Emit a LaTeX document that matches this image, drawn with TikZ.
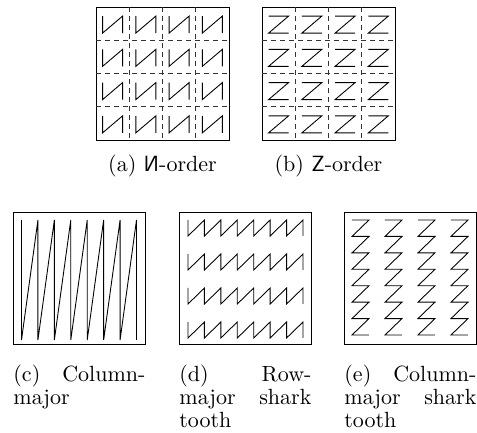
\documentclass[tikz,border=0pt]{standalone}
\usepackage{tikz}
\usetikzlibrary{positioning}

\begin{document}
\begin{tikzpicture}[x=0.4545pt, y=-0.4545pt,
    frame/.style={draw=black, line width=0.4pt},
    cellgrid/.style={draw=black!80, line width=0.4pt, dash pattern=on 2.3pt off 1.8pt},
    curve/.style={draw=black, line width=0.4pt},
    subcap/.style={inner sep=0pt, font=\fontsize{10}{10.5}\selectfont},
    longcap/.style={subcap, anchor=north west, text width=60pt, align=left}]
  \useasboundingbox (0,0) rectangle (477,433);

  % (a) N-order
  \draw[frame] (96,7) rectangle (229,140);
  \foreach \k in {1,2,3} {
    \draw[cellgrid] (96+33.25*\k,7) -- (96+33.25*\k,140);
    \draw[cellgrid] (96,7+33.25*\k) -- (229,7+33.25*\k);
  }
  \foreach \i in {0,...,3} {
    \foreach \j in {0,...,3} {
      \pgfmathsetmacro\cx{112.6+33.25*\i}
      \pgfmathsetmacro\cy{24.6+33.25*\j}
      \draw[curve] (\cx-10,\cy-8.5) -- (\cx-10,\cy+8.5) -- (\cx+10,\cy-8.5) -- (\cx+10,\cy+8.5);
    }
  }
  \node[subcap, anchor=base] (capa) at (162.5,172) {(a) \textsf{\reflectbox{N}}-order};

  % (b) Z-order
  \draw[frame] (262,7) rectangle (395,140);
  \foreach \k in {1,2,3} {
    \draw[cellgrid] (262+33.25*\k,7) -- (262+33.25*\k,140);
    \draw[cellgrid] (262,7+33.25*\k) -- (395,7+33.25*\k);
  }
  \foreach \i in {0,...,3} {
    \foreach \j in {0,...,3} {
      \pgfmathsetmacro\cx{278.6+33.25*\i}
      \pgfmathsetmacro\cy{24.6+33.25*\j}
      \draw[curve] (\cx-10,\cy-8.5) -- (\cx+10,\cy-8.5) -- (\cx-10,\cy+8.5) -- (\cx+10,\cy+8.5);
    }
  }
  \node[subcap, anchor=base] (capb) at (328.5,172) {(b) \textsf{Z}-order};

  % (c) column-major
  \draw[frame] (13,212) rectangle (145,344);
  \draw[curve] (21.5,220) \foreach \i in {0,...,7} { -- (21.5+16.43*\i,220) -- (21.5+16.43*\i,340) };
  \node[longcap] (capc) at (13,364.5) {(c)\hfill Column-\\major};

  % (d) row-major shark tooth
  \draw[frame] (179,212) rectangle (311,344);
  \foreach \k in {0,...,3} {
    \pgfmathsetmacro\rt{220+34*\k}
    \draw[curve] (188,\rt) \foreach \i in {0,...,7} { -- (188+16.43*\i,\rt) -- (188+16.43*\i,\rt+16) };
  }
  \node[longcap] (capd) at (179,364.5) {(d)\hfill Row-\\major\hfill shark\\tooth};

  % (e) column-major shark tooth
  \draw[frame] (344,212) rectangle (476,344);
  \foreach \k in {0,...,3} {
    \pgfmathsetmacro\cl{352+33*\k}
    \draw[curve] (\cl,220) \foreach \j in {0,...,7} { -- (\cl,220+16.43*\j) -- (\cl+17,220+16.43*\j) };
  }
  \node[longcap] (cape) at (344,364.5) {(e)\hfill Column-\\major\hfill shark\\tooth};
\end{tikzpicture}
\end{document}
